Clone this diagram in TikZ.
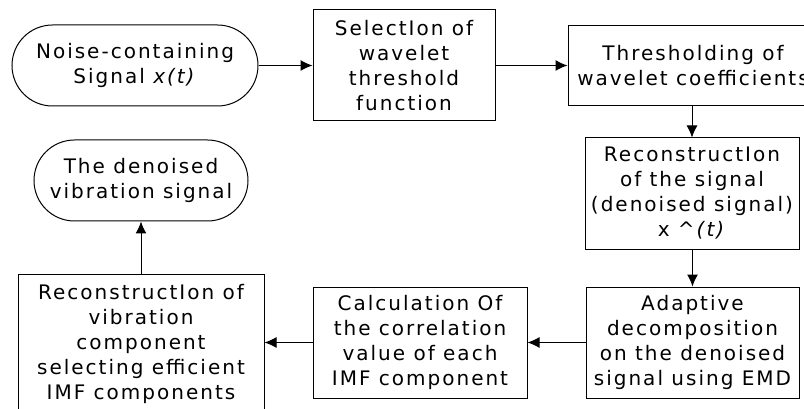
\documentclass[tikz,border=0pt]{standalone}
\usepackage{fontspec}
\setmainfont[LetterSpace=10]{DejaVu Sans}
\usepackage{tikz}
\usetikzlibrary{shapes.misc, arrows.meta}

\tikzset{
    blocco/.style = {draw, line width = 1pt, rectangle, align = center, inner sep = 0pt},
    capsula/.style = {draw, line width = 1pt, rounded rectangle, rounded rectangle arc length = 180, align = center, inner sep = 0pt},
    freccia/.style = {-{Latex[length = 12pt, width = 11pt]}, line width = 1pt}
}

\begin{document}
\begin{tikzpicture}[x = 1pt, y = -1pt, font = \fontsize{20}{25}\selectfont]
    % Area dell'immagine
    \useasboundingbox (0,0) rectangle (804,409);
    \clip (0,0) rectangle (804,409);

    % Riga superiore
    \node[capsula, minimum width = 246pt, minimum height = 81pt] (segnale) at (135,65.5) {Noise-containing\\Signal \textit{x(t)}};
    \node[blocco, minimum width = 182pt, minimum height = 111pt] (scelta) at (404,65.5) {SelectIon of\\wavelet\\threshold\\function};
    \node[blocco, minimum width = 250pt, minimum height = 80pt] (soglia) at (693,66) {Thresholding of\\wavelet coefficients};

    % Colonna destra
    \node[blocco, minimum width = 214pt, minimum height = 111pt] (ricostr) at (692,193.5) {ReconstructIon\\of the signal\\(denoised signal)\\x \textit{\^{}(t)}};
    \node[blocco, minimum width = 213pt, minimum height = 111pt] (emd) at (692.5,342.5) {Adaptive\\decomposition\\on the denoised\\signal using EMD};

    % Riga inferiore
    \node[blocco, minimum width = 214pt, minimum height = 111pt] (correl) at (420,342.5) {Calculation Of\\the correlation\\value of each\\IMF component};
    \node[blocco, minimum width = 246pt, minimum height = 140pt] (vibraz) at (141,344) {ReconstructIon of\\vibration\\component\\selecting efficient\\IMF components};
    \node[capsula, minimum width = 214pt, minimum height = 81pt] (finale) at (141,180.5) {The denoised\\vibration signal};

    % Frecce
    \draw[freccia] (segnale.east) -- (scelta.west);
    \draw[freccia] (scelta.east) -- (scelta.east -| soglia.west);
    \draw[freccia] (ricostr.north |- soglia.south) -- (ricostr.north);
    \draw[freccia] (emd.north |- ricostr.south) -- (emd.north);
    \draw[freccia] (emd.west) -- (correl.east);
    \draw[freccia] (correl.west) -- (correl.west -| vibraz.east);
    \draw[freccia] (vibraz.north) -- (finale.south);
\end{tikzpicture}
\end{document}
